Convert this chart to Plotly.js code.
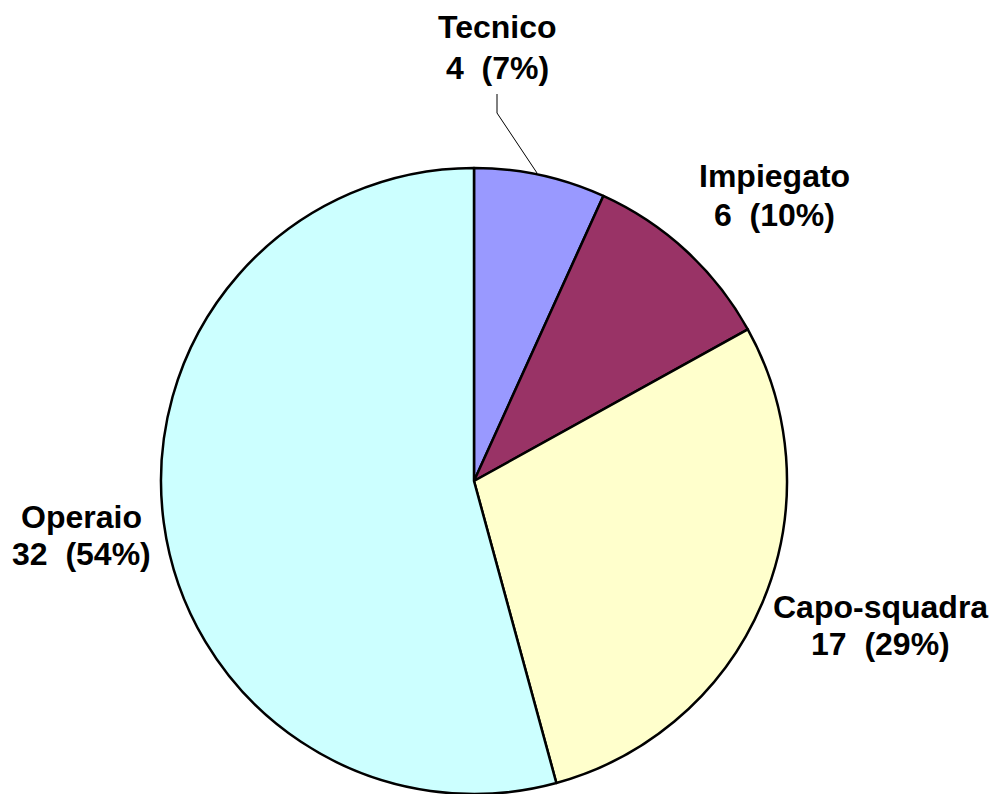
<!DOCTYPE html>
<html><head><meta charset="utf-8">
<script src="https://cdn.plot.ly/plotly-3.0.1.min.js"></script>
<style>html,body{margin:0;padding:0;background:#fff}</style>
</head><body><div id="chart" style="width:997px;height:794px"></div>
<script>
const categories = ["Tecnico", "Impiegato", "Capo-squadra", "Operaio"];
const values = [4, 6, 17, 32];
const colors = ["#9999FF", "#993366", "#FFFFCC", "#CCFFFF"];

const W = 997, H = 794;
// label placement in pixels: [centerX, line1 centerY, line2 centerY]
const labelPos = [[497, 27, 68], [774, 176, 215], [880, 607, 644], [81, 517, 554]];
const total = values.reduce((a, b) => a + b, 0);
const font = {family: "Liberation Sans, Arial, sans-serif", size: 32, color: "#000"};
const annotations = [];
categories.forEach((c, i) => {
  const pct = Math.round(values[i] / total * 100);
  const [x, y1, y2] = labelPos[i];
  annotations.push({text: "<b>" + c + "</b>", x: x / W, y: 1 - y1 / H, xref: "paper", yref: "paper",
    showarrow: false, xanchor: "center", yanchor: "middle", font: font});
  annotations.push({text: "<b>" + values[i] + "\u00a0\u00a0(" + pct + "%)</b>", x: x / W, y: 1 - y2 / H,
    xref: "paper", yref: "paper", showarrow: false, xanchor: "center", yanchor: "middle", font: font});
});

const p = (x, y) => (x / W).toFixed(5) + "," + (1 - y / H).toFixed(5);
const shapes = [{type: "path", xref: "paper", yref: "paper",
  path: "M " + p(497, 94) + " L " + p(497, 113) + " L " + p(537, 173),
  line: {color: "#000", width: 1}}];

const data = [{
  type: "pie",
  labels: categories,
  values: values,
  sort: false,
  direction: "clockwise",
  rotation: 0,
  textinfo: "none",
  hoverinfo: "none",
  marker: {colors: colors, line: {color: "#000", width: 2.5}},
  domain: {x: [161 / W, 787 / W], y: [0, 1 - 168 / H]}
}];

const layout = {
  width: W, height: H,
  margin: {l: 0, r: 0, t: 0, b: 0},
  paper_bgcolor: "#fff",
  showlegend: false,
  annotations: annotations,
  shapes: shapes
};
Plotly.newPlot("chart", data, layout, {displayModeBar: false, staticPlot: true});
</script>
</body></html>
